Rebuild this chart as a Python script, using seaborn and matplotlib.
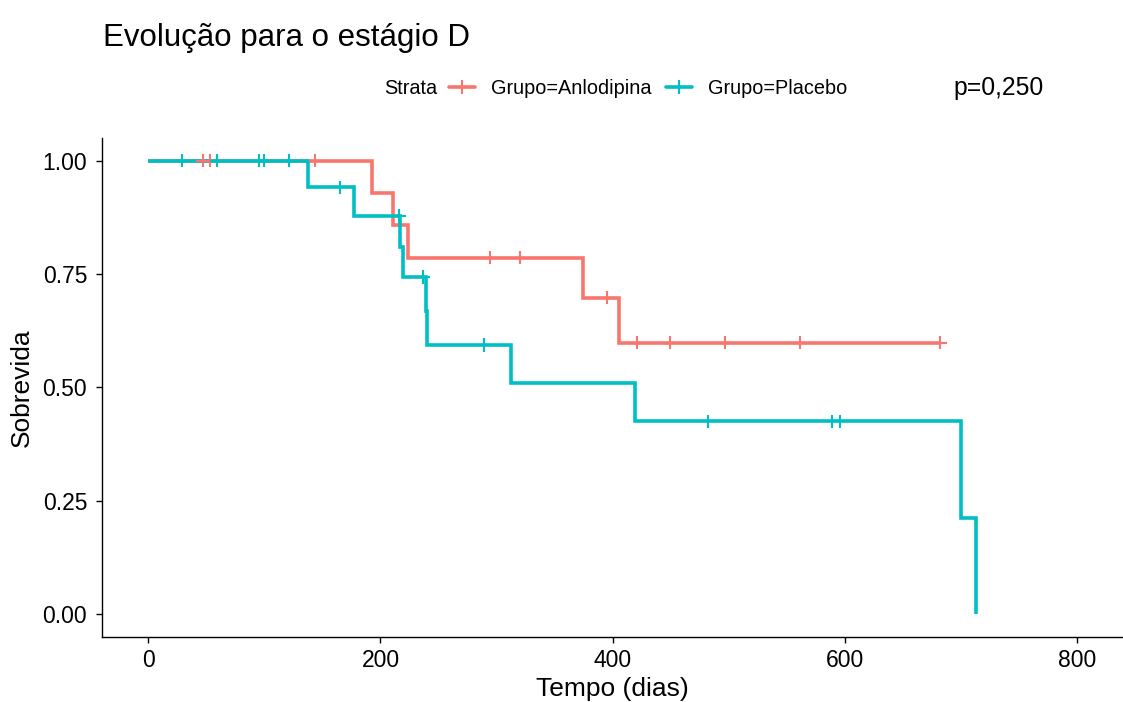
import numpy as np
import pandas as pd
import matplotlib
matplotlib.use("Agg")
import matplotlib.pyplot as plt
from matplotlib.lines import Line2D
import seaborn as sns

# Kaplan-Meier step values
groups = ["Grupo=Anlodipina", "Grupo=Placebo"]
colors = ["#F8766D", "#00BFC4"]

anlo_times = [0, 193, 211, 224, 374, 405, 682]
anlo_surv = [1.0, 0.929, 0.857, 0.786, 0.698, 0.599, 0.599]
anlo_censor = [47, 53, 144, 294, 320, 395, 421, 449, 497, 561, 682]

plac_times = [0, 138, 177, 217, 219, 239, 240, 312, 419, 700, 713]
plac_surv = [1.0, 0.941, 0.878, 0.810, 0.743, 0.669, 0.594, 0.510, 0.425, 0.2125, 0.0]
plac_censor = [29, 59, 95, 100, 121, 165, 216, 237, 289, 482, 589, 596]

p_text = "p=0,250"

sns.set_style("ticks")
plt.rcParams["font.family"] = ["Liberation Sans", "DejaVu Sans"]
plt.rcParams["text.color"] = "black"
plt.rcParams["axes.labelcolor"] = "black"

curves = pd.concat([
    pd.DataFrame({"tempo": anlo_times, "surv": anlo_surv, "grupo": groups[0]}),
    pd.DataFrame({"tempo": plac_times, "surv": plac_surv, "grupo": groups[1]}),
])


def censor_points(times, surv, cens, name):
    idx = np.searchsorted(times, cens, side="right") - 1
    return pd.DataFrame({"tempo": cens, "surv": np.array(surv)[idx], "grupo": name})


marks = pd.concat([
    censor_points(anlo_times, anlo_surv, anlo_censor, groups[0]),
    censor_points(plac_times, plac_surv, plac_censor, groups[1]),
])

pal = dict(zip(groups, colors))

fig = plt.figure(figsize=(11.23, 7.02), dpi=100)
ax = fig.add_axes([0.0906, 0.0926, 0.910, 0.711])

sns.lineplot(data=curves, x="tempo", y="surv", hue="grupo", palette=pal,
             estimator=None, sort=False, drawstyle="steps-post", lw=2.6,
             legend=False, ax=ax)
for line in ax.lines:
    line.set_solid_joinstyle("miter")
    line.set_solid_capstyle("butt")
sns.scatterplot(data=marks, x="tempo", y="surv", hue="grupo", palette=pal,
                marker="+", s=95, linewidth=1.5, legend=False, ax=ax, zorder=3)

ax.set_xlim(-40, 840)
ax.set_ylim(-0.05, 1.05)
ax.set_xticks([0, 200, 400, 600, 800])
ax.set_yticks([0, 0.25, 0.5, 0.75, 1.0])
ax.set_yticklabels(["0.00", "0.25", "0.50", "0.75", "1.00"])
ax.tick_params(labelsize=16.5, length=4.5, width=1, colors="black", pad=4)
ax.tick_params(axis="y", pad=6)
sns.despine(ax=ax)
for sp in ["left", "bottom"]:
    ax.spines[sp].set_linewidth(1)
    ax.spines[sp].set_color("black")

ax.set_xlabel("Tempo (dias)", fontsize=19, labelpad=4)
ax.set_ylabel("Sobrevida", fontsize=19, labelpad=6)

fig.text(0.0917, 0.9345, "Evolução para o estágio D", fontsize=22.5,
         ha="left", va="baseline")

handles = [Line2D([0], [0], color=c, lw=2.6, marker="+", markersize=9.5,
                  markeredgewidth=1.5) for c in colors]
fig.text(384 / 1123, 0.8746, "Strata", fontsize=14.3, ha="left", va="center")
fig.legend(handles, groups, loc="center left", bbox_to_anchor=(449 / 1123, 0.8746),
           ncol=2, frameon=False, fontsize=14.3, borderpad=0, borderaxespad=0,
           handlelength=1.3, handletextpad=0.8, columnspacing=0.75)
fig.text(953 / 1123, 0.8746, p_text, fontsize=17.8, ha="left", va="center")

fig.savefig("out.png", dpi=100)
